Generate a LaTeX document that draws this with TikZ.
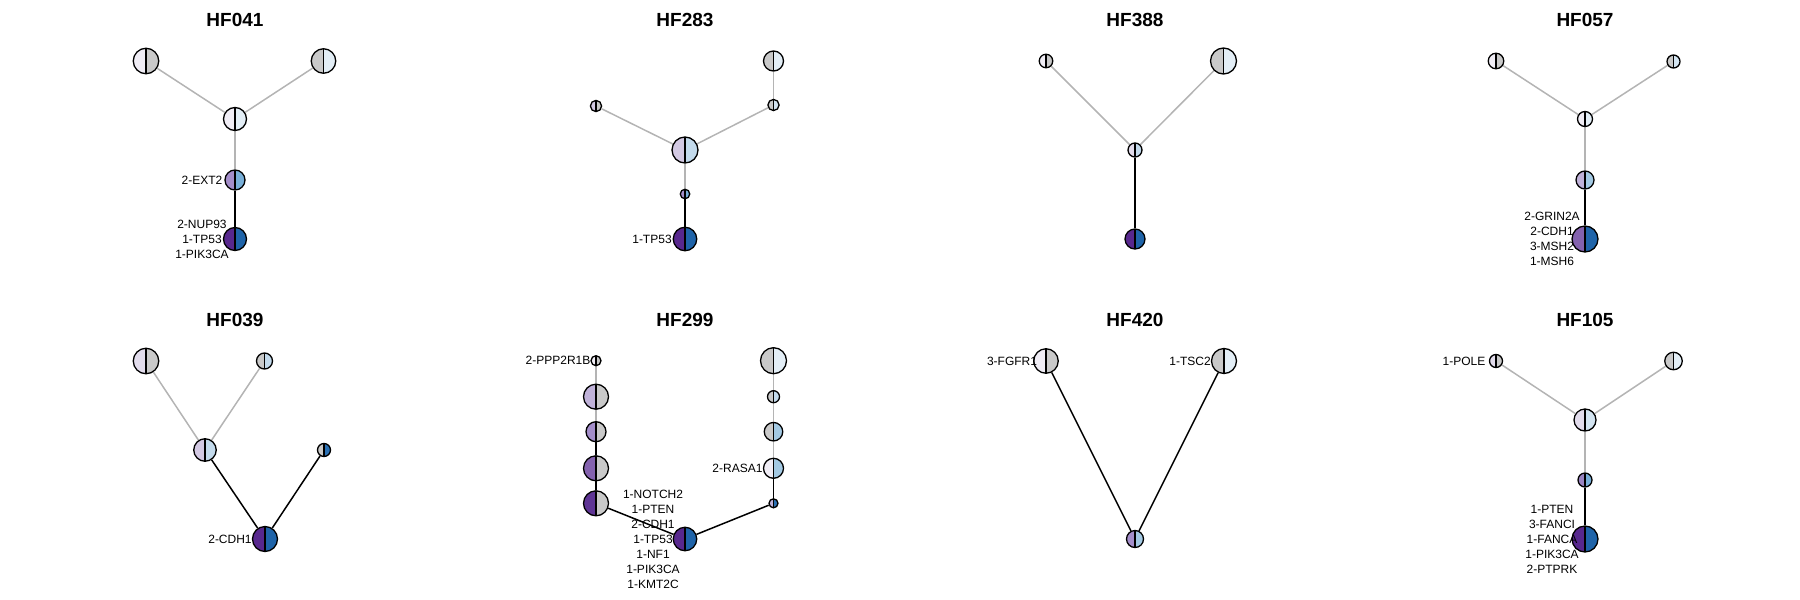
\documentclass[tikz,border=0pt]{standalone}
\usepackage{fontspec}
\setmainfont{Liberation Sans}
\usetikzlibrary{positioning,backgrounds}
\definecolor{gry}{HTML}{C9C9C9}
\definecolor{edgegry}{HTML}{B4B4B4}
\definecolor{p0}{HTML}{F0EDF5}
\definecolor{p1}{HTML}{E2DCEC}
\definecolor{p2}{HTML}{D3C9E3}
\definecolor{p3}{HTML}{C0B2D9}
\definecolor{p4}{HTML}{A48ECA}
\definecolor{p5}{HTML}{9A84C2}
\definecolor{p6}{HTML}{8462AE}
\definecolor{p7}{HTML}{5F3595}
\definecolor{p8}{HTML}{58288E}
\definecolor{b0}{HTML}{E3EEF6}
\definecolor{b1}{HTML}{D3E4F1}
\definecolor{b2}{HTML}{C3DAEC}
\definecolor{b3}{HTML}{A3C9E3}
\definecolor{b4}{HTML}{78AFD8}
\definecolor{b6}{HTML}{2A70B3}
\definecolor{b7}{HTML}{1F64A9}
\tikzset{
tn/.style n args={3}{
  circle,
  draw,
  line width=1.3pt,
  inner sep=0pt,
  minimum size=#1pt,
  path picture={
    \fill[#2] (path picture bounding box.south west) rectangle (path picture bounding box.north);
    \fill[#3] (path picture bounding box.south) rectangle (path picture bounding box.north east);
    \draw[line width=1.3pt] (path picture bounding box.south) -- (path picture bounding box.north);
    }
  },
lbl/.style={
  font=\fontsize{12}{15}\selectfont,
  align=center,
  inner sep=0pt
  },
ttl/.style={font=\fontsize{19}{22}\selectfont\bfseries},
gedge/.style={draw=edgegry, line width=1.5pt},
kedge/.style={draw=black, line width=1.5pt}
}

\begin{document}
\begin{tikzpicture}[x=1pt,y=-1pt]
\useasboundingbox (0,0) rectangle (1800,600);

% HF041
\begin{scope}[shift={(235,0)}]
\node[ttl] (t1) at (0,20) {HF041};
\node[tn={25.5}{p0}{gry}] (a1) at (-89,61) {};
\node[tn={24.5}{gry}{b0}] (a2) at (88.5,61) {};
\node[tn={23}{p0}{b0}] (a3) at (0,119) {};
\node[tn={20}{p4}{b4}] (a4) at (0,180) {};
\node[tn={23}{p8}{b7}] (a5) at (0,239) {};
\begin{scope}[on background layer]
\draw[gedge] (a1) -- (a3);
\draw[gedge] (a2) -- (a3);
\draw[gedge] (a3) -- (a4);
\draw[kedge] (a4) -- (a5);
\end{scope}
\node[lbl] (la4) at ([xshift=-33pt]a4.center) {2-EXT2};
\node[lbl] (la5) at ([xshift=-33pt]a5.center) {2-NUP93\\1-TP53\\1-PIK3CA};
\end{scope}

% HF283
\begin{scope}[shift={(685,0)}]
\node[ttl] (t2) at (0,20) {HF283};
\node[tn={11.2}{p2}{gry}] (b1) at (-89,106) {};
\node[tn={20}{gry}{b0}] (b2) at (88.5,61) {};
\node[tn={11.2}{gry}{b1}] (b3) at (88.5,105) {};
\node[tn={26}{p2}{b2}] (b4) at (0,150) {};
\node[tn={9.5}{p4}{b4}] (b5) at (0,194) {};
\node[tn={23.5}{p8}{b7}] (b6) at (0,239) {};
\begin{scope}[on background layer]
\draw[gedge] (b1) -- (b4);
\draw[gedge] (b3) -- (b4);
\draw[gedge] (b2) -- (b3);
\draw[gedge] (b4) -- (b5);
\draw[kedge] (b5) -- (b6);
\end{scope}
\node[lbl] (lb6) at ([xshift=-33pt]b6.center) {1-TP53};
\end{scope}

% HF388
\begin{scope}[shift={(1135,0)}]
\node[ttl] (t3) at (0,20) {HF388};
\node[tn={13.5}{p0}{gry}] (c1) at (-89,61) {};
\node[tn={26}{gry}{b0}] (c2) at (88.5,61) {};
\node[tn={14}{p1}{b2}] (c3) at (0,150) {};
\node[tn={20}{p8}{b7}] (c4) at (0,239) {};
\begin{scope}[on background layer]
\draw[gedge] (c1) -- (c3);
\draw[gedge] (c2) -- (c3);
\draw[kedge] (c3) -- (c4);
\end{scope}
\end{scope}

% HF057
\begin{scope}[shift={(1585,0)}]
\node[ttl] (t4) at (0,20) {HF057};
\node[tn={15.5}{p0}{gry}] (d1) at (-89,61) {};
\node[tn={13}{gry}{b1}] (d2) at (88.5,61.5) {};
\node[tn={15}{p0}{b0}] (d3) at (0,119) {};
\node[tn={18}{p3}{b3}] (d4) at (0,180) {};
\node[tn={26}{p6}{b7}] (d5) at (0,239) {};
\begin{scope}[on background layer]
\draw[gedge] (d1) -- (d3);
\draw[gedge] (d2) -- (d3);
\draw[gedge] (d3) -- (d4);
\draw[kedge] (d4) -- (d5);
\end{scope}
\node[lbl] (ld5) at ([xshift=-33pt]d5.center) {2-GRIN2A\\2-CDH1\\3-MSH2\\1-MSH6};
\end{scope}

% HF039
\begin{scope}[shift={(235,300)}]
\node[ttl] (t5) at (0,20) {HF039};
\node[tn={25.5}{p1}{gry}] (e1) at (-89,61) {};
\node[tn={16}{gry}{b2}] (e2) at (29.5,61) {};
\node[tn={22.5}{p2}{b2}] (e3) at (-30,150) {};
\node[tn={13}{gry}{b6}] (e4) at (89,150) {};
\node[tn={25}{p8}{b7}] (e5) at (30,239) {};
\begin{scope}[on background layer]
\draw[gedge] (e1) -- (e3);
\draw[gedge] (e2) -- (e3);
\draw[kedge] (e3) -- (e5);
\draw[kedge] (e4) -- (e5);
\end{scope}
\node[lbl] (le5) at ([xshift=-35pt]e5.center) {2-CDH1};
\end{scope}

% HF299
\begin{scope}[shift={(685,300)}]
\node[ttl] (t6) at (0,20) {HF299};
\node[tn={10}{p0}{gry}] (f1) at (-89,60.7) {};
\node[tn={25}{p3}{gry}] (f2) at (-89,96.7) {};
\node[tn={20}{p4}{gry}] (f3) at (-89,131.7) {};
\node[tn={25}{p6}{gry}] (f4) at (-89,168.3) {};
\node[tn={25}{p7}{gry}] (f5) at (-89,203.3) {};
\node[tn={23.5}{p8}{b7}] (f6) at (0,239) {};
\node[tn={26}{gry}{b0}] (f7) at (88.5,60.7) {};
\node[tn={12}{gry}{b2}] (f8) at (88.5,96.7) {};
\node[tn={18.5}{gry}{b3}] (f9) at (88.5,131.7) {};
\node[tn={20}{p0}{b3}] (f10) at (88.5,168.3) {};
\node[tn={9}{p3}{b6}] (f11) at (88.5,203.3) {};
\begin{scope}[on background layer]
\draw[gedge] (f1) -- (f2);
\draw[gedge] (f2) -- (f3);
\draw[kedge] (f3) -- (f4);
\draw[kedge] (f4) -- (f5);
\draw[kedge] (f5) -- (f6);
\draw[gedge] (f7) -- (f8);
\draw[gedge] (f8) -- (f9);
\draw[gedge] (f9) -- (f10);
\draw[kedge] (f10) -- (f11);
\draw[kedge] (f11) -- (f6);
\end{scope}
\node[lbl] (lf1) at ([xshift=-38pt]f1.center) {2-PPP2R1B};
\node[lbl] (lf10) at ([xshift=-36pt]f10.center) {2-RASA1};
\node[lbl] (lf6) at ([xshift=-32pt]f6.center) {1-NOTCH2\\1-PTEN\\2-CDH1\\1-TP53\\1-NF1\\1-PIK3CA\\1-KMT2C};
\end{scope}

% HF420
\begin{scope}[shift={(1135,300)}]
\node[ttl] (t7) at (0,20) {HF420};
\node[tn={24.5}{p0}{gry}] (g1) at (-89,61) {};
\node[tn={25}{gry}{b0}] (g2) at (89,61) {};
\node[tn={17}{p4}{b3}] (g3) at (0,239) {};
\begin{scope}[on background layer]
\draw[kedge] (g1) -- (g3);
\draw[kedge] (g2) -- (g3);
\end{scope}
\node[lbl] (lg1) at ([xshift=-34pt]g1.center) {3-FGFR1};
\node[lbl] (lg2) at ([xshift=-34pt]g2.center) {1-TSC2};
\end{scope}

% HF105
\begin{scope}[shift={(1585,300)}]
\node[ttl] (t8) at (0,20) {HF105};
\node[tn={13}{p1}{gry}] (h1) at (-89,61) {};
\node[tn={17.5}{gry}{b0}] (h2) at (88.5,61) {};
\node[tn={22}{p1}{b1}] (h3) at (0,120) {};
\node[tn={14}{p5}{b4}] (h4) at (0,180) {};
\node[tn={26}{p8}{b7}] (h5) at (0,239) {};
\begin{scope}[on background layer]
\draw[gedge] (h1) -- (h3);
\draw[gedge] (h2) -- (h3);
\draw[gedge] (h3) -- (h4);
\draw[kedge] (h4) -- (h5);
\end{scope}
\node[lbl] (lh1) at ([xshift=-32pt]h1.center) {1-POLE};
\node[lbl] (lh5) at ([xshift=-33pt]h5.center) {1-PTEN\\3-FANCI\\1-FANCA\\1-PIK3CA\\2-PTPRK};
\end{scope}
\end{tikzpicture}
\end{document}
